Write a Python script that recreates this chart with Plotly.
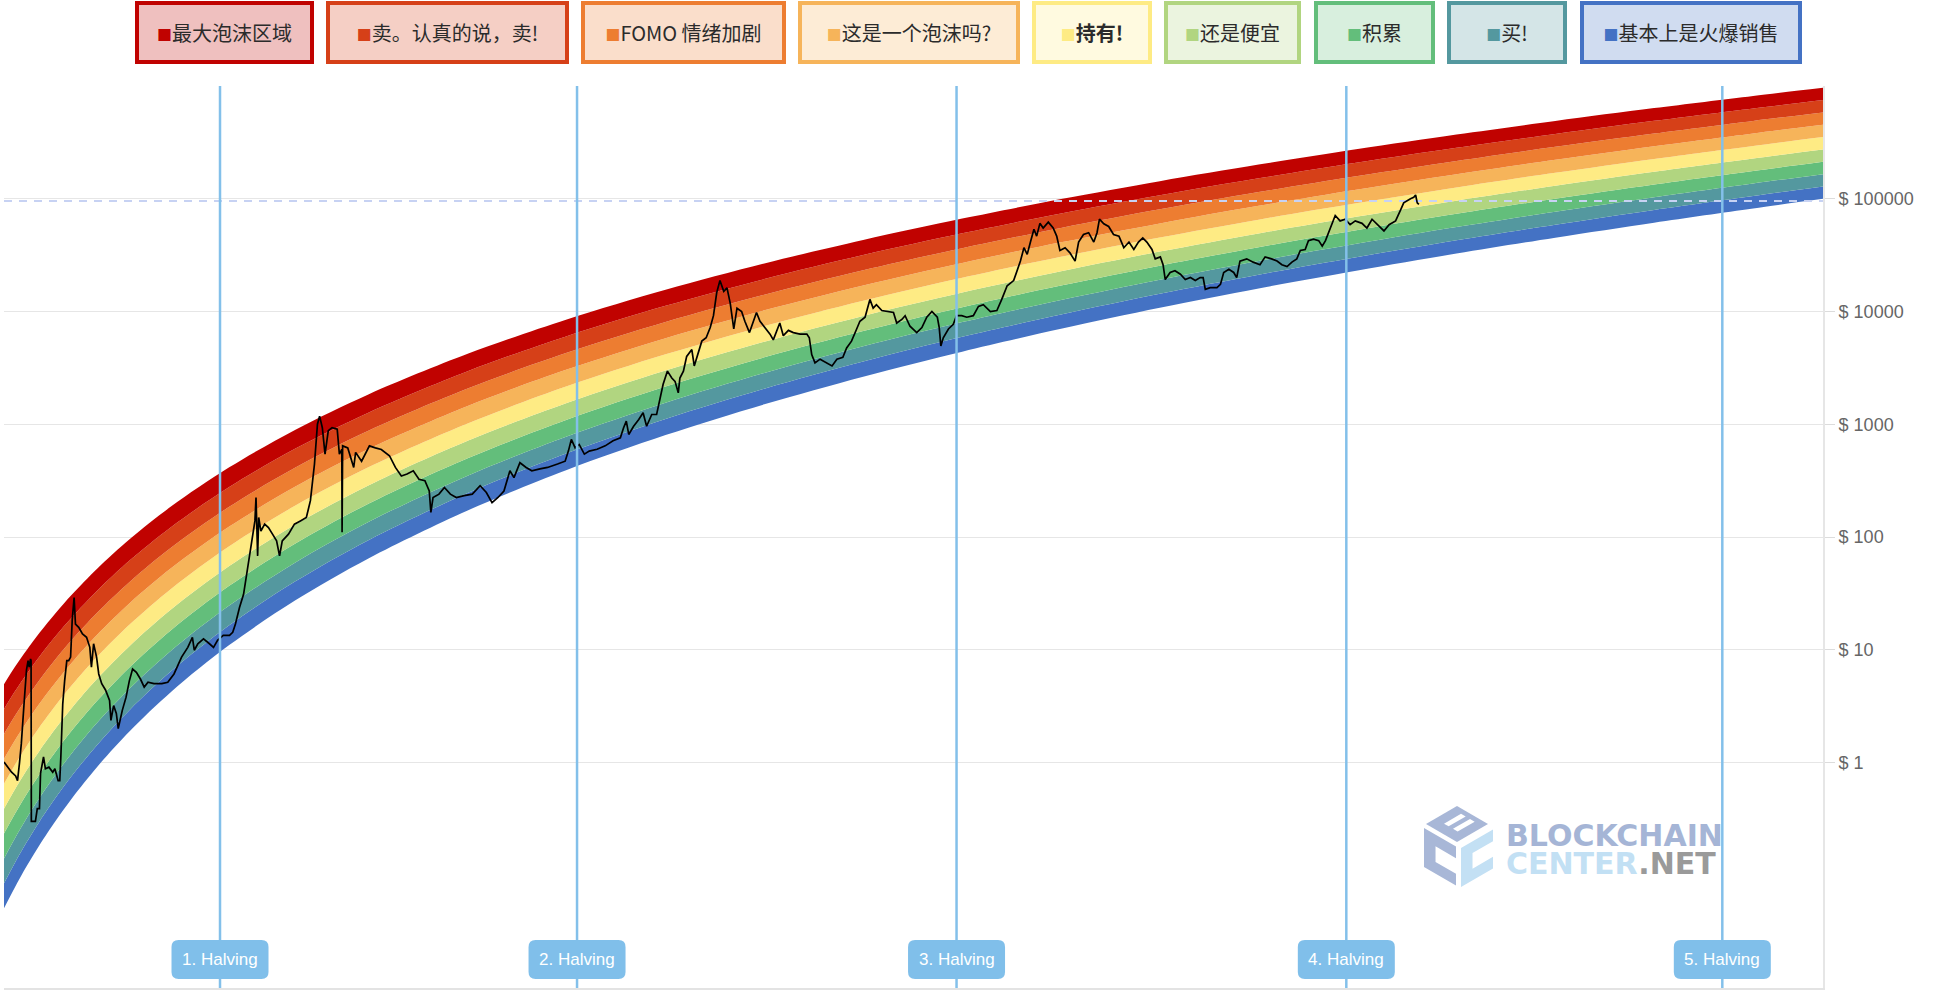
import numpy as np
import plotly.graph_objects as go

# ---------------- data ----------------
band_names = ["最大泡沫区域", "卖。认真的说，卖!", "FOMO 情绪加剧", "这是一个泡沫吗?", "<b>持有!</b>",
              "还是便宜", "积累", "买!", "基本上是火爆销售"]
band_colors = ["#c00200", "#d64018", "#ed7d31", "#f6b45a", "#feeb84",
               "#b1d580", "#63be7b", "#54989f", "#4472c4"]

band_dates = ["2010-09-22", "2010-11-01", "2010-12-15", "2011-02-01", "2011-04-01", "2011-06-01",
              "2011-09-01", "2012-01-01", "2012-06-01", "2013-01-01", "2013-09-01", "2014-06-01",
              "2015-06-01", "2016-06-01", "2017-06-01", "2018-06-01", "2019-06-01", "2020-06-01",
              "2021-06-01", "2022-06-01", "2023-06-01", "2024-06-01", "2025-06-01", "2026-06-01",
              "2027-06-01", "2028-06-01", "2029-02-14"]
band_top = [4.95, 7.02, 9.97, 14.2, 21.2, 31.0, 52.3, 96.4, 187, 415, 891, 1849, 4217, 8511,
            15600, 26700, 43150, 66700, 99300, 143200, 201000, 276000, 371000, 490000, 637000,
            817000, 966000]
band_bottom = [0.051, 0.078, 0.1205, 0.1866, 0.305, 0.485, 0.914, 1.914, 4.25, 11.0, 27.3, 64.9,
               172, 393, 802, 1503, 2642, 4406, 7015, 10770, 16000, 23100, 32700, 45200, 61400,
               82000, 99800]

price_dates = [
    "2010-09-22", "2010-10-05", "2010-10-20", "2010-11-04", "2010-11-11", "2010-11-18", "2010-11-25",
    "2010-12-05", "2010-12-14", "2010-12-20", "2010-12-24", "2010-12-29", "2010-12-31", "2011-01-01",
    "2011-01-16", "2011-01-23", "2011-01-31", "2011-02-04", "2011-02-15", "2011-02-22", "2011-03-07",
    "2011-03-21", "2011-03-29", "2011-04-10", "2011-04-16", "2011-04-20", "2011-04-27", "2011-05-04",
    "2011-05-12", "2011-05-19", "2011-05-26", "2011-06-01", "2011-06-08", "2011-06-13", "2011-06-25",
    "2011-07-09", "2011-07-24", "2011-08-05", "2011-08-11", "2011-08-19", "2011-08-30", "2011-09-07",
    "2011-09-18", "2011-10-02", "2011-10-17", "2011-10-22", "2011-11-01", "2011-11-11", "2011-11-18",
    "2011-12-03", "2011-12-17", "2011-12-29", "2012-01-10", "2012-01-24", "2012-02-08", "2012-02-22",
    "2012-03-07", "2012-03-29", "2012-04-27", "2012-05-19", "2012-06-11", "2012-07-09", "2012-08-01",
    "2012-08-18", "2012-08-25", "2012-09-07", "2012-09-28", "2012-10-20", "2012-11-04", "2012-11-19",
    "2012-12-10", "2013-01-02", "2013-01-14", "2013-01-24", "2013-02-08", "2013-02-23", "2013-03-07",
    "2013-03-17", "2013-03-29", "2013-04-06", "2013-04-10", "2013-04-16", "2013-04-20", "2013-04-28",
    "2013-05-12", "2013-05-26", "2013-06-10", "2013-06-25", "2013-07-06", "2013-07-16", "2013-08-08",
    "2013-08-30", "2013-09-21", "2013-10-13", "2013-10-28", "2013-11-12", "2013-11-23", "2013-12-01",
    "2013-12-11", "2013-12-21", "2014-01-02", "2014-01-16", "2014-02-04", "2014-02-12", "2014-02-21",
    "2014-02-22", "2014-02-24", "2014-03-15", "2014-04-06", "2014-04-13", "2014-05-05", "2014-05-19",
    "2014-06-03", "2014-06-25", "2014-07-17", "2014-08-16", "2014-09-07", "2014-09-29", "2014-10-20",
    "2014-11-12", "2014-12-03", "2014-12-25", "2015-01-10", "2015-01-16", "2015-01-24", "2015-02-15",
    "2015-03-07", "2015-03-29", "2015-04-20", "2015-05-19", "2015-06-18", "2015-07-17", "2015-08-09",
    "2015-08-30", "2015-09-21", "2015-10-13", "2015-11-04", "2015-11-19", "2015-12-11", "2016-01-03",
    "2016-01-24", "2016-02-23", "2016-03-22", "2016-04-28", "2016-05-26", "2016-06-07", "2016-06-18",
    "2016-07-02", "2016-07-17", "2016-08-05", "2016-08-23", "2016-09-21", "2016-10-21", "2016-11-19",
    "2016-12-16", "2016-12-28", "2017-01-07", "2017-01-16", "2017-02-03", "2017-02-22", "2017-03-10",
    "2017-03-23", "2017-04-11", "2017-04-29", "2017-05-11", "2017-05-23", "2017-06-08", "2017-06-24",
    "2017-07-06", "2017-07-18", "2017-07-24", "2017-08-06", "2017-08-18", "2017-09-06", "2017-09-15",
    "2017-09-25", "2017-10-13", "2017-10-29", "2017-11-13", "2017-11-25", "2017-12-07", "2017-12-19",
    "2018-01-02", "2018-01-14", "2018-01-26", "2018-02-08", "2018-02-20", "2018-03-09", "2018-03-21",
    "2018-04-07", "2018-04-19", "2018-05-03", "2018-05-16", "2018-06-03", "2018-06-22", "2018-07-04",
    "2018-07-16", "2018-07-28", "2018-08-10", "2018-08-29", "2018-09-16", "2018-10-11", "2018-11-05",
    "2018-11-14", "2018-11-23", "2018-12-05", "2018-12-24", "2019-01-18", "2019-02-06", "2019-02-24",
    "2019-03-18", "2019-04-01", "2019-04-19", "2019-05-08", "2019-05-20", "2019-06-08", "2019-06-26",
    "2019-07-08", "2019-07-20", "2019-08-09", "2019-09-02", "2019-09-21", "2019-10-03", "2019-10-22",
    "2019-11-03", "2019-11-21", "2019-12-16", "2020-01-04", "2020-01-22", "2020-02-10", "2020-03-01",
    "2020-03-08", "2020-03-14", "2020-03-23", "2020-04-11", "2020-04-29", "2020-05-11", "2020-05-30",
    "2020-06-18", "2020-07-12", "2020-07-31", "2020-08-18", "2020-09-13", "2020-10-07", "2020-10-25",
    "2020-11-14", "2020-12-08", "2020-12-20", "2021-01-02", "2021-01-15", "2021-01-27", "2021-02-08",
    "2021-02-21", "2021-03-03", "2021-03-15", "2021-03-27", "2021-04-15", "2021-05-03", "2021-05-16",
    "2021-05-28", "2021-06-16", "2021-07-04", "2021-07-23", "2021-08-05", "2021-08-23", "2021-09-11",
    "2021-09-30", "2021-10-12", "2021-10-21", "2021-11-06", "2021-11-24", "2021-12-12", "2022-01-01",
    "2022-01-19", "2022-02-07", "2022-02-25", "2022-03-14", "2022-03-30", "2022-04-14", "2022-05-03",
    "2022-05-15", "2022-06-03", "2022-06-13", "2022-06-21", "2022-07-09", "2022-07-27", "2022-08-16",
    "2022-09-03", "2022-09-22", "2022-10-10", "2022-10-28", "2022-11-08", "2022-11-16", "2022-12-04",
    "2022-12-29", "2023-01-11", "2023-01-23", "2023-02-11", "2023-03-01", "2023-03-12", "2023-03-24",
    "2023-04-18", "2023-05-12", "2023-06-06", "2023-06-25", "2023-07-19", "2023-08-08", "2023-08-26",
    "2023-09-14", "2023-10-02", "2023-10-20", "2023-11-02", "2023-11-20", "2023-12-02", "2023-12-21",
    "2024-01-09", "2024-01-22", "2024-02-03", "2024-02-15", "2024-02-28", "2024-03-10", "2024-03-28",
    "2024-04-16", "2024-05-04", "2024-05-23", "2024-06-17", "2024-07-05", "2024-07-24", "2024-08-12",
    "2024-09-06", "2024-09-25", "2024-10-19", "2024-11-07", "2024-11-18", "2024-12-13", "2024-12-25",
    "2025-01-01", "2025-01-07", "2025-01-13"]
price_values = [
    1.01, 0.91, 0.82, 0.76, 0.69, 0.98, 1.47,
    3.3, 6.6, 8.0, 7.0, 8.3, 8.0, 0.30,
    0.30, 0.39, 0.39, 0.80, 1.12, 0.88, 0.91,
    0.82, 0.88, 0.69, 0.69, 1.12, 3.3, 5.3,
    8.0, 8.0, 8.6, 18.3, 29, 16.9, 15.8,
    13.8, 12.9, 10.5, 7.0, 11.3, 8.6, 6.1,
    5.0, 4.4, 3.55, 2.36, 3.2, 2.72, 2.0,
    2.9, 3.8, 5.3, 6.75, 6.3, 5.5, 4.66,
    5.15, 5.0, 5.0, 5.15, 6.1, 8.6, 10.5,
    12.9, 9.9, 11.3, 12.5, 11.3, 10.5, 12.1,
    13.4, 13.4, 14.3, 16.9, 23.7, 31, 46.6,
    70.6, 106, 139, 224, 68, 149, 113,
    130, 121, 106, 92.5, 68, 92.5, 106,
    130, 139, 149, 210, 444, 1000, 1180,
    932, 543, 877, 932, 905, 543, 600,
    110, 643, 617, 414, 563, 470, 543,
    643, 617, 597, 526, 414, 348, 362,
    387, 325, 316, 256, 165, 224, 240,
    275, 240, 224, 233, 240, 285, 248,
    202, 224, 256, 387, 336, 456, 414,
    387, 402, 414, 444, 470, 578, 733,
    618, 662, 543, 578, 600, 643, 715,
    757, 930, 1066, 812, 960, 1100, 1264,
    960, 1220, 1220, 1700, 2260, 2960, 2570,
    2400, 1900, 2570, 2960, 4000, 4600, 3290,
    4000, 5460, 5850, 7200, 9180, 14700, 18800,
    15100, 16200, 11800, 7000, 10700, 10000, 8200,
    6500, 7900, 9800, 8200, 7200, 6300, 5600,
    6800, 7900, 6100, 6800, 6500, 6300, 6300,
    5850, 4150, 3500, 3780, 3500, 3290, 3780,
    3920, 4750, 5460, 7000, 8200, 8900, 12800,
    10700, 11500, 10200, 10000, 9800, 7900, 8500,
    9180, 7400, 6500, 7200, 8900, 10000, 8900,
    7200, 4950, 5850, 7000, 7700, 9180, 9180,
    8900, 9180, 11100, 11500, 10000, 10200, 12800,
    16900, 18800, 23000, 28000, 36800, 32100, 41300,
    53600, 46600, 60500, 55000, 62000, 55000, 46600,
    34800, 36800, 33100, 28000, 41300, 48200, 50000,
    41300, 50000, 66000, 60000, 56800, 48200, 46600,
    36800, 41300, 35500, 41300, 45000, 41300, 35500,
    29300, 30500, 26000, 19200, 22200, 23000, 21400,
    19200, 20000, 18800, 20000, 20000, 15700, 16300,
    16300, 17400, 22200, 23700, 22200, 20000, 28000,
    29300, 27400, 26000, 30500, 29300, 28000, 26000,
    25000, 27400, 29300, 34800, 35500, 42500, 43800,
    42500, 38000, 42500, 50000, 58900, 71000, 63600,
    65800, 58900, 63600, 60500, 55000, 65800, 58900,
    51800, 58900, 63600, 80000, 92000, 100000, 103000,
    108000, 92000, 89000]

halving_dates = ["2012-11-28", "2016-07-09", "2020-05-11", "2024-04-20", "2028-02-08"]
halving_labels = ["1. Halving", "2. Halving", "3. Halving", "4. Halving", "5. Halving"]
current_price = 95500
x_range = ["2010-09-22", "2029-02-14"]
ytick_vals = [1, 10, 100, 1000, 10000, 100000]
ytick_text = ["$ 1", "$ 10", "$ 100", "$ 1000", "$ 10000", "$ 100000"]

# ---------------- layout geometry ----------------
W, H = 1938, 990
ML, MR, MT, MB = 4, 115, 86, 2
PW, PH = W - ML - MR, H - MT - MB


def px(x):
    return (x - ML) / PW


def py(y):
    return (H - MB - y) / PH


fig = go.Figure()

# rainbow bands (boundaries evenly spaced in log between bottom and top edge)
lt = np.log10(np.array(band_top, dtype=float))
lb = np.log10(np.array(band_bottom, dtype=float))
for k in range(10):
    edge = 10 ** (lb + (lt - lb) * k / 9.0)
    fig.add_trace(go.Scatter(
        x=band_dates, y=edge, mode="lines",
        line=dict(width=0, shape="spline", smoothing=0.9),
        fill="tonexty" if k else "none",
        fillcolor=band_colors[9 - k] if k else None,
        hoverinfo="skip", showlegend=False))

# current price dashed line
fig.add_trace(go.Scatter(
    x=x_range, y=[current_price, current_price], mode="lines",
    line=dict(color="#c7d2f3", width=2, dash="8px,7px"),
    hoverinfo="skip", showlegend=False))

# price
fig.add_trace(go.Scatter(
    x=price_dates, y=price_values, mode="lines",
    line=dict(color="#000000", width=1.7),
    showlegend=False))

shapes = []
annotations = []

# halving lines + labels
ylab = py(959.5)
for d, lab in zip(halving_dates, halving_labels):
    shapes.append(dict(type="line", xref="x", yref="paper", x0=d, x1=d, y0=0, y1=1,
                       line=dict(color="#83c0ea", width=2.5), layer="above"))
for d, lab in zip(halving_dates, halving_labels):
    w2, h2, r = 48.5, 19.5, 7
    path = (f"M {-w2 + r},{-h2} L {w2 - r},{-h2} Q {w2},{-h2} {w2},{-h2 + r} "
            f"L {w2},{h2 - r} Q {w2},{h2} {w2 - r},{h2} L {-w2 + r},{h2} "
            f"Q {-w2},{h2} {-w2},{h2 - r} L {-w2},{-h2 + r} Q {-w2},{-h2} {-w2 + r},{-h2} Z")
    shapes.append(dict(type="path", xref="x", yref="paper", xsizemode="pixel", ysizemode="pixel",
                       xanchor=d, yanchor=ylab, path=path, fillcolor="#80bfea",
                       line=dict(width=0), layer="above"))
    annotations.append(dict(x=d, y=ylab, xref="x", yref="paper", text=lab, showarrow=False,
                            xanchor="center", yanchor="middle",
                            font=dict(family="Liberation Sans, Arial", size=17, color="#ffffff")))

# legend boxes
legend_boxes = [(135, 314), (326, 569), (581, 786), (798, 1020), (1032, 1152),
                (1164, 1301), (1314, 1435), (1447, 1567), (1580, 1802)]
box_top, box_bot, bw = 1, 64, 4
for (l, r), name, col in zip(legend_boxes, band_names, band_colors):
    rr, gg, bb = int(col[1:3], 16), int(col[3:5], 16), int(col[5:7], 16)
    annotations.append(dict(
        x=px((l + r) / 2), y=py((box_top + box_bot) / 2), xref="paper", yref="paper",
        xanchor="center", yanchor="middle", showarrow=False,
        text=f"<span style='color:{col};font-size:15px'>■</span>{name}",
        font=dict(family="Noto Sans CJK SC", size=20, color="#2b2b2b"),
        bgcolor=f"rgba({rr},{gg},{bb},0.25)", bordercolor=col, borderwidth=bw, borderpad=0,
        width=(r - l) - 2 * bw, height=(box_bot - box_top) - 2 * bw))

# watermark logo (cube)
GB, LBL = "#a8b7d7", "#c3e0f4"


def poly(points):
    return "M " + " L ".join(f"{px(x):.6f},{py(y):.6f}" for x, y in points) + " Z"


cshape = [(0, 0), (1, 0), (1, 0.3), (0.36, 0.3), (0.36, 0.7), (1, 0.7), (1, 1), (0, 1)]


def lf(u, v):
    return (1424 + 32 * u, 828 + 18.5 * u + 39 * v)


def rf(u, v):
    return (1461 + 32 * u, 848 - 18.5 * u + 39 * v)


def tf(u, v):
    return (1426 + 31 * u + 31 * v, 824 - 18 * u + 18 * v)


shapes.append(dict(type="path", xref="paper", yref="paper", layer="below",
                   path=poly([lf(u, v) for u, v in cshape]), fillcolor=GB, line=dict(width=0)))
shapes.append(dict(type="path", xref="paper", yref="paper", layer="below",
                   path=poly([rf(u, v) for u, v in cshape]), fillcolor=LBL, line=dict(width=0)))
shapes.append(dict(type="path", xref="paper", yref="paper", layer="below",
                   path=poly([tf(0, 0), tf(1, 0), tf(1, 1), tf(0, 1)]), fillcolor=GB,
                   line=dict(width=0)))
for v0, v1 in [(0.28, 0.43), (0.57, 0.72)]:
    shapes.append(dict(type="path", xref="paper", yref="paper", layer="below",
                       path=poly([tf(0.3, v0), tf(0.85, v0), tf(0.85, v1), tf(0.3, v1)]),
                       fillcolor="#ffffff", line=dict(width=0)))

annotations.append(dict(x=px(1504), y=py(835), xref="paper", yref="paper", xanchor="left",
                        yanchor="middle", showarrow=False, text="BLOCKCHAIN",
                        font=dict(family="DejaVu Sans", size=30, color="#a5b5d6", weight=700)))
annotations.append(dict(x=px(1504), y=py(863), xref="paper", yref="paper", xanchor="left",
                        yanchor="middle", showarrow=False,
                        text="<span style='color:#c2e0f4'>CENTER</span><span style='color:#9a9a9a'>.NET</span>",
                        font=dict(family="DejaVu Sans", size=30, color="#c2e0f4", weight=700)))

fig.update_layout(
    width=W, height=H,
    margin=dict(l=ML, r=MR, t=MT, b=MB, pad=0),
    paper_bgcolor="#ffffff", plot_bgcolor="#ffffff",
    showlegend=False, hovermode=False,
    shapes=shapes, annotations=annotations,
    xaxis=dict(type="date", range=x_range, showgrid=False, showticklabels=False, ticks="",
               showline=True, linecolor="#e3e3e3", linewidth=2, zeroline=False),
    yaxis=dict(type="log", range=[-2, 6], side="right", tickvals=ytick_vals, ticktext=ytick_text,
               showgrid=True, gridcolor="#e6e6e6", gridwidth=1, ticks="outside", ticklen=10,
               tickcolor="#dcdcdc", showline=True, linecolor="#e6e6e6", linewidth=2,
               zeroline=False,
               tickfont=dict(family="Liberation Sans, Arial", size=18, color="#666666")),
)

fig.write_html("out.html", post_script="document.body.style.margin='0';")
